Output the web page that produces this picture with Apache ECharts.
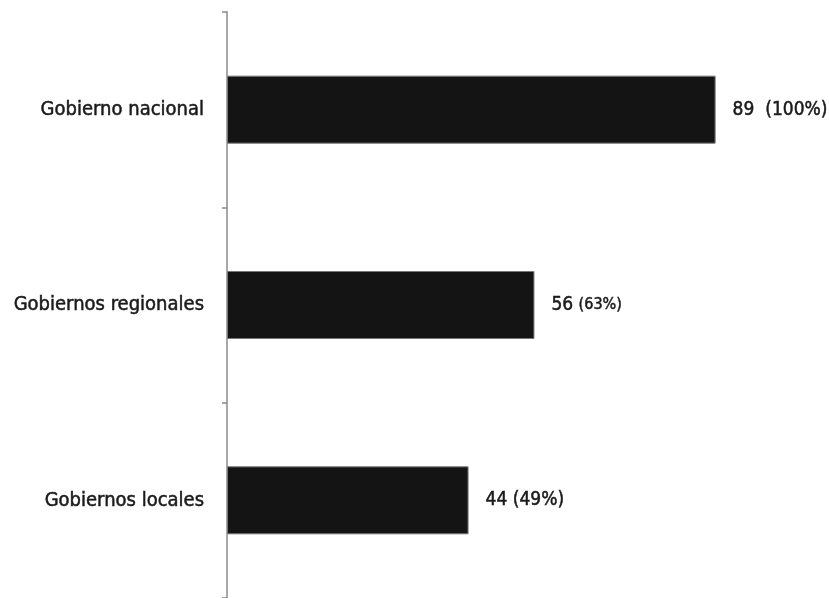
<!DOCTYPE html>
<html><head><meta charset="utf-8">
<script src="https://cdn.jsdelivr.net/npm/echarts@6/dist/echarts.min.js"></script>
<style>html,body{margin:0;padding:0;background:#fff}#c{width:829px;height:598px}</style>
</head><body><div id="c"></div>
<script>
const categories = ["Gobierno nacional", "Gobiernos regionales", "Gobiernos locales"];
const values = [89, 56, 44];
const shares = ["(100%)", "(63%)", "(49%)"];
const shareSep = ["  ", " ", " "];
const shareStyle = ["big", "small", "big"];

const FONT = "'DejaVu Sans Condensed', 'Liberation Sans Narrow', 'Liberation Sans', sans-serif";
const INK = '#1a1a1a';
const txt = (size) => ({fontFamily: FONT, fontSize: size, color: INK, textBorderColor: INK, textBorderWidth: 0.5});
const chart = echarts.init(document.getElementById('c'));
chart.setOption({
  animation: false,
  grid: {left: 227, right: 53, top: 12, bottom: 0, containLabel: false},
  xAxis: {type: 'value', min: 0, max: 100, show: false},
  yAxis: {
    type: 'category', inverse: true, data: categories, offset: 3,
    axisLine: {show: true, lineStyle: {color: '#a8a8a8', width: 2}},
    axisTick: {show: true, length: 5, lineStyle: {color: '#888', width: 1.5}},
    axisLabel: Object.assign({margin: 20}, txt(20))
  },
  series: [{
    type: 'bar', barWidth: 68,
    data: values.map((v, i) => ({value: v, label: {formatter: '{n|' + v + '}' + shareSep[i] + '{' + shareStyle[i] + '|' + shares[i] + '}'}})),
    itemStyle: {color: '#141414', borderColor: '#777', borderWidth: 1},
    label: Object.assign({
      show: true, position: 'right', distance: 17,
      rich: {n: txt(19), big: txt(19), small: txt(16)}
    }, txt(19))
  }]
});
</script></body></html>
